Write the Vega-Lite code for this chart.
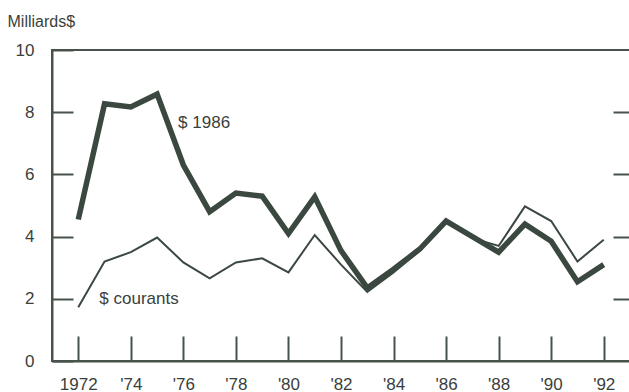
{
  "$schema": "https://vega.github.io/schema/vega-lite/v6.json",
  "width": 578,
  "height": 311,
  "autosize": {"type": "none"},
  "padding": {"left": 52, "top": 50, "right": 0, "bottom": 31},
  "background": "white",
  "config": {
    "font": "Liberation Sans",
    "view": {"stroke": "#46524a", "strokeWidth": 2},
    "axis": {"grid": false, "ticks": true, "domainColor": "#46524a", "domainWidth": 2, "tickColor": "#46524a", "tickWidth": 2, "labelColor": "#3a3f3c", "labelFont": "Liberation Sans", "labelFontSize": 17}
  },
  "datasets": {
    "series": [
      {"year": 1972, "courants": 1.73, "c1986": 4.55},
      {"year": 1973, "courants": 3.2, "c1986": 8.27},
      {"year": 1974, "courants": 3.5, "c1986": 8.17},
      {"year": 1975, "courants": 3.97, "c1986": 8.58},
      {"year": 1976, "courants": 3.17, "c1986": 6.3},
      {"year": 1977, "courants": 2.66, "c1986": 4.8},
      {"year": 1978, "courants": 3.17, "c1986": 5.4},
      {"year": 1979, "courants": 3.3, "c1986": 5.3},
      {"year": 1980, "courants": 2.85, "c1986": 4.1},
      {"year": 1981, "courants": 4.05, "c1986": 5.28},
      {"year": 1982, "courants": 3.1, "c1986": 3.55},
      {"year": 1983, "courants": 2.22, "c1986": 2.35},
      {"year": 1984, "courants": 2.85, "c1986": 2.95},
      {"year": 1985, "courants": 3.55, "c1986": 3.6},
      {"year": 1986, "courants": 4.5, "c1986": 4.5},
      {"year": 1987, "courants": 3.95, "c1986": 4.0},
      {"year": 1988, "courants": 3.7, "c1986": 3.5},
      {"year": 1989, "courants": 4.97, "c1986": 4.4},
      {"year": 1990, "courants": 4.5, "c1986": 3.85},
      {"year": 1991, "courants": 3.2, "c1986": 2.55},
      {"year": 1992, "courants": 3.9, "c1986": 3.1}
    ],
    "labels": [
      {"year": 1975.8, "value": 7.66, "label": "$ 1986"},
      {"year": 1972.8, "value": 2.0, "label": "$ courants"}
    ]
  },
  "layer": [
    {
      "data": {"name": "series"},
      "mark": {"type": "line", "color": "#3b4840", "strokeWidth": 5.5, "strokeJoin": "miter", "clip": true},
      "encoding": {
        "x": {"field": "year", "type": "quantitative", "scale": {"domain": [1971, 1993], "nice": false, "zero": false},
          "axis": {"values": [1972,1973,1974,1975,1976,1977,1978,1979,1980,1981,1982,1983,1984,1985,1986,1987,1988,1989,1990,1991,1992],
            "tickSize": {"condition": {"test": "datum.value % 2 === 0", "value": -25}, "value": -17},
            "labelExpr": "datum.value % 2 !== 0 ? '' : (datum.value === 1972 ? '1972' : \"'\" + substring(toString(datum.value), 2))",
            "labelPadding": 40, "labelBaseline": "top", "title": null}},
        "y": {"field": "c1986", "type": "quantitative", "scale": {"domain": [0, 10], "nice": false},
          "axis": {"orient": "left", "values": [0, 2, 4, 6, 8, 10], "tickSize": -21, "labelPadding": 39, "labelBaseline": "middle",
            "title": "Milliards$", "titleAngle": 0, "titleAlign": "left", "titleBaseline": "middle", "titleX": -45, "titleY": -29,
            "titleFont": "Liberation Sans", "titleFontSize": 16, "titleFontWeight": "normal", "titleColor": "#3a3f3c"}}
      }
    },
    {
      "data": {"name": "series"},
      "mark": {"type": "line", "color": "#3b4840", "strokeWidth": 2, "clip": true},
      "encoding": {
        "x": {"field": "year", "type": "quantitative"},
        "y": {"field": "courants", "type": "quantitative",
          "axis": {"orient": "right", "values": [2, 4, 6, 8], "tickSize": -17, "labels": false, "domain": false, "title": null}}
      }
    },
    {
      "data": {"name": "labels"},
      "mark": {"type": "text", "align": "left", "baseline": "middle", "fontSize": 17, "color": "#3a3f3c", "font": "Liberation Sans"},
      "encoding": {
        "x": {"field": "year", "type": "quantitative"},
        "y": {"field": "value", "type": "quantitative", "axis": null},
        "text": {"field": "label"}
      }
    }
  ],
  "resolve": {"axis": {"y": "independent"}}
}
